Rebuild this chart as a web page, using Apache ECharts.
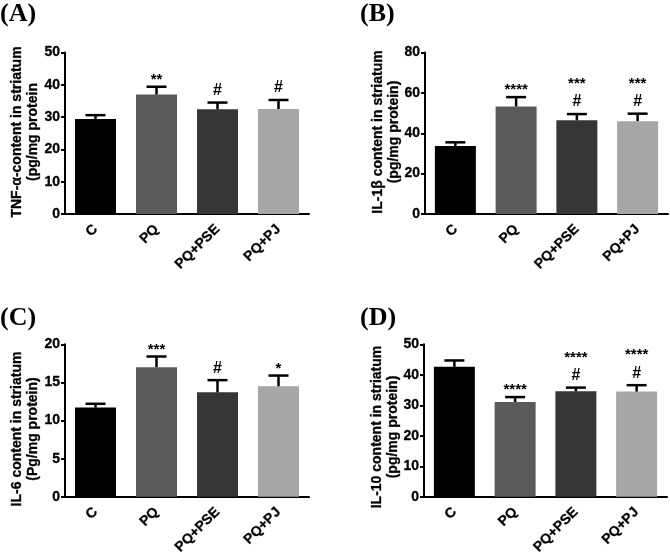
<!DOCTYPE html>
<html>
<head>
<meta charset="utf-8">
<script src="https://cdn.jsdelivr.net/npm/echarts@6/dist/echarts.min.js"></script>
<style>html,body{margin:0;padding:0;background:#fff}#c{width:670px;height:557px}</style>
</head>
<body>
<div id="c"></div>
<script>
const categories = ['C', 'PQ', 'PQ+PSE', 'PQ+PJ'];
const barColors = ['#000000', '#5a5a5a', '#363636', '#a6a6a6'];

const tnfMean = [29.4, 37.0, 32.4, 32.5];
const tnfErr = [1.2, 2.4, 2.1, 2.8];
const tnfStars = ['', '**', '', ''];
const tnfHash = ['', '', '#', '#'];

const il1bMean = [33.7, 53.3, 46.4, 46.0];
const il1bErr = [1.8, 4.6, 3.1, 3.7];
const il1bStars = ['', '****', '***', '***'];
const il1bHash = ['', '', '#', '#'];

const il6Mean = [11.7, 17.0, 13.7, 14.5];
const il6Err = [0.5, 1.4, 1.6, 1.4];
const il6Stars = ['', '***', '', '*'];
const il6Hash = ['', '', '#', ''];

const il10Mean = [42.6, 31.1, 34.6, 34.5];
const il10Err = [2.1, 1.6, 1.2, 2.1];
const il10Stars = ['', '****', '****', '****'];
const il10Hash = ['', '', '#', '#'];

const yMax = [50, 80, 20, 50];
const yStep = [10, 20, 5, 10];
const panelLetters = ['(A)', '(B)', '(C)', '(D)'];
const yTitles = [
  'TNF-\u03b1-content in striatum\n(pg/mg protein',
  'IL-1\u03b2 content in striatum\n(pg/mg protein)',
  'IL-6 content in striatum\n(Pg/mg protein)',
  'IL-10 content in striatum\n(pg/mg protein)'
];

const panels = [
  {mean: tnfMean, err: tnfErr, stars: tnfStars, hash: tnfHash},
  {mean: il1bMean, err: il1bErr, stars: il1bStars, hash: il1bHash},
  {mean: il6Mean, err: il6Err, stars: il6Stars, hash: il6Hash},
  {mean: il10Mean, err: il10Err, stars: il10Stars, hash: il10Hash}
];

const FONT = '"Liberation Sans", Arial, sans-serif';
const grids = [
  {left: 65, top: 52.5, width: 244, height: 161.5},
  {left: 425, top: 52.5, width: 243, height: 161.5},
  {left: 65, top: 344.3, width: 244, height: 161.7},
  {left: 424, top: 344.3, width: 243, height: 161.0}
];
const titlePos = [[25, 132], [386, 132], [25.5, 429], [385, 427]];
const letterPos = [[0, 1], [360, 1], [0, 305], [360, 305]];

const xAxes = [], yAxes = [], series = [], graphics = [];
panels.forEach((p, k) => {
  xAxes.push({
    type: 'category', gridIndex: k, data: categories,
    axisLine: {lineStyle: {color: '#000', width: 2}},
    axisTick: {alignWithLabel: true, length: 5, lineStyle: {color: '#000', width: 2}},
    axisLabel: {rotate: 45, margin: 13, color: '#000', fontWeight: 'bold', fontSize: 14, fontFamily: FONT, interval: 0,
      textBorderColor: '#000', textBorderWidth: 0.3}
  });
  yAxes.push({
    type: 'value', gridIndex: k, min: 0, max: yMax[k], interval: yStep[k],
    splitLine: {show: false},
    axisLine: {show: true, lineStyle: {color: '#000', width: 2}},
    axisTick: {show: true, length: 4, lineStyle: {color: '#000', width: 2}},
    axisLabel: {margin: 5, color: '#000', fontWeight: 'bold', fontSize: 14, fontFamily: FONT,
      textBorderColor: '#000', textBorderWidth: 0.3}
  });
  series.push({
    type: 'bar', xAxisIndex: k, yAxisIndex: k, barWidth: 41, silent: true,
    data: p.mean.map((v, i) => ({value: v, itemStyle: {color: barColors[i]}})),
    z: 2
  });
  series.push({
    type: 'custom', xAxisIndex: k, yAxisIndex: k, silent: true, z: 3,
    data: p.mean.map((v, i) => [i, v, p.err[i]]),
    renderItem: function (params, api) {
      const i = api.value(0), m = api.value(1), e = api.value(2);
      const b = api.coord([i, m]);
      const t = api.coord([i, m + e]);
      const hw = 10;
      return {
        type: 'group',
        children: [
          {type: 'line', shape: {x1: b[0], y1: b[1], x2: t[0], y2: t[1]}, style: {stroke: '#000', lineWidth: 2.5}},
          {type: 'line', shape: {x1: t[0] - hw, y1: t[1], x2: t[0] + hw, y2: t[1]}, style: {stroke: '#000', lineWidth: 2.5}}
        ]
      };
    }
  });
  series.push({
    type: 'custom', xAxisIndex: k, yAxisIndex: k, silent: true, z: 4,
    data: p.mean.map((v, i) => [i, v + p.err[i]]),
    renderItem: function (params, api) {
      const i = api.value(0);
      const t = api.coord([i, api.value(1)]);
      const kids = [];
      const h = p.hash[i], s = p.stars[i];
      if (h) {
        kids.push({type: 'text', style: {text: h, x: t[0], y: t[1] - 12, align: 'center', verticalAlign: 'middle', font: 'bold 16px ' + FONT, fill: '#000'}});
      }
      if (s) {
        kids.push({type: 'text', style: {text: s, x: t[0], y: t[1] - (h ? 30 : 7), align: 'center', verticalAlign: 'middle', font: 'bold 15px ' + FONT, fill: '#000'}});
      }
      return {type: 'group', children: kids};
    }
  });
  graphics.push({
    type: 'text', left: letterPos[k][0], top: letterPos[k][1],
    style: {text: panelLetters[k], font: 'bold 26px "Liberation Serif", "Times New Roman", serif', fill: '#000'}
  });
  graphics.push({
    type: 'text', x: titlePos[k][0], y: titlePos[k][1], rotation: Math.PI / 2,
    style: {text: yTitles[k], align: 'center', verticalAlign: 'middle', font: 'bold 14px ' + FONT, lineHeight: 16, fill: '#000',
      stroke: '#000', lineWidth: 0.3}
  });
});

const chart = echarts.init(document.getElementById('c'));
chart.setOption({
  animation: false,
  backgroundColor: '#fff',
  grid: grids,
  xAxis: xAxes,
  yAxis: yAxes,
  series: series,
  graphic: graphics
});
</script>
</body>
</html>
